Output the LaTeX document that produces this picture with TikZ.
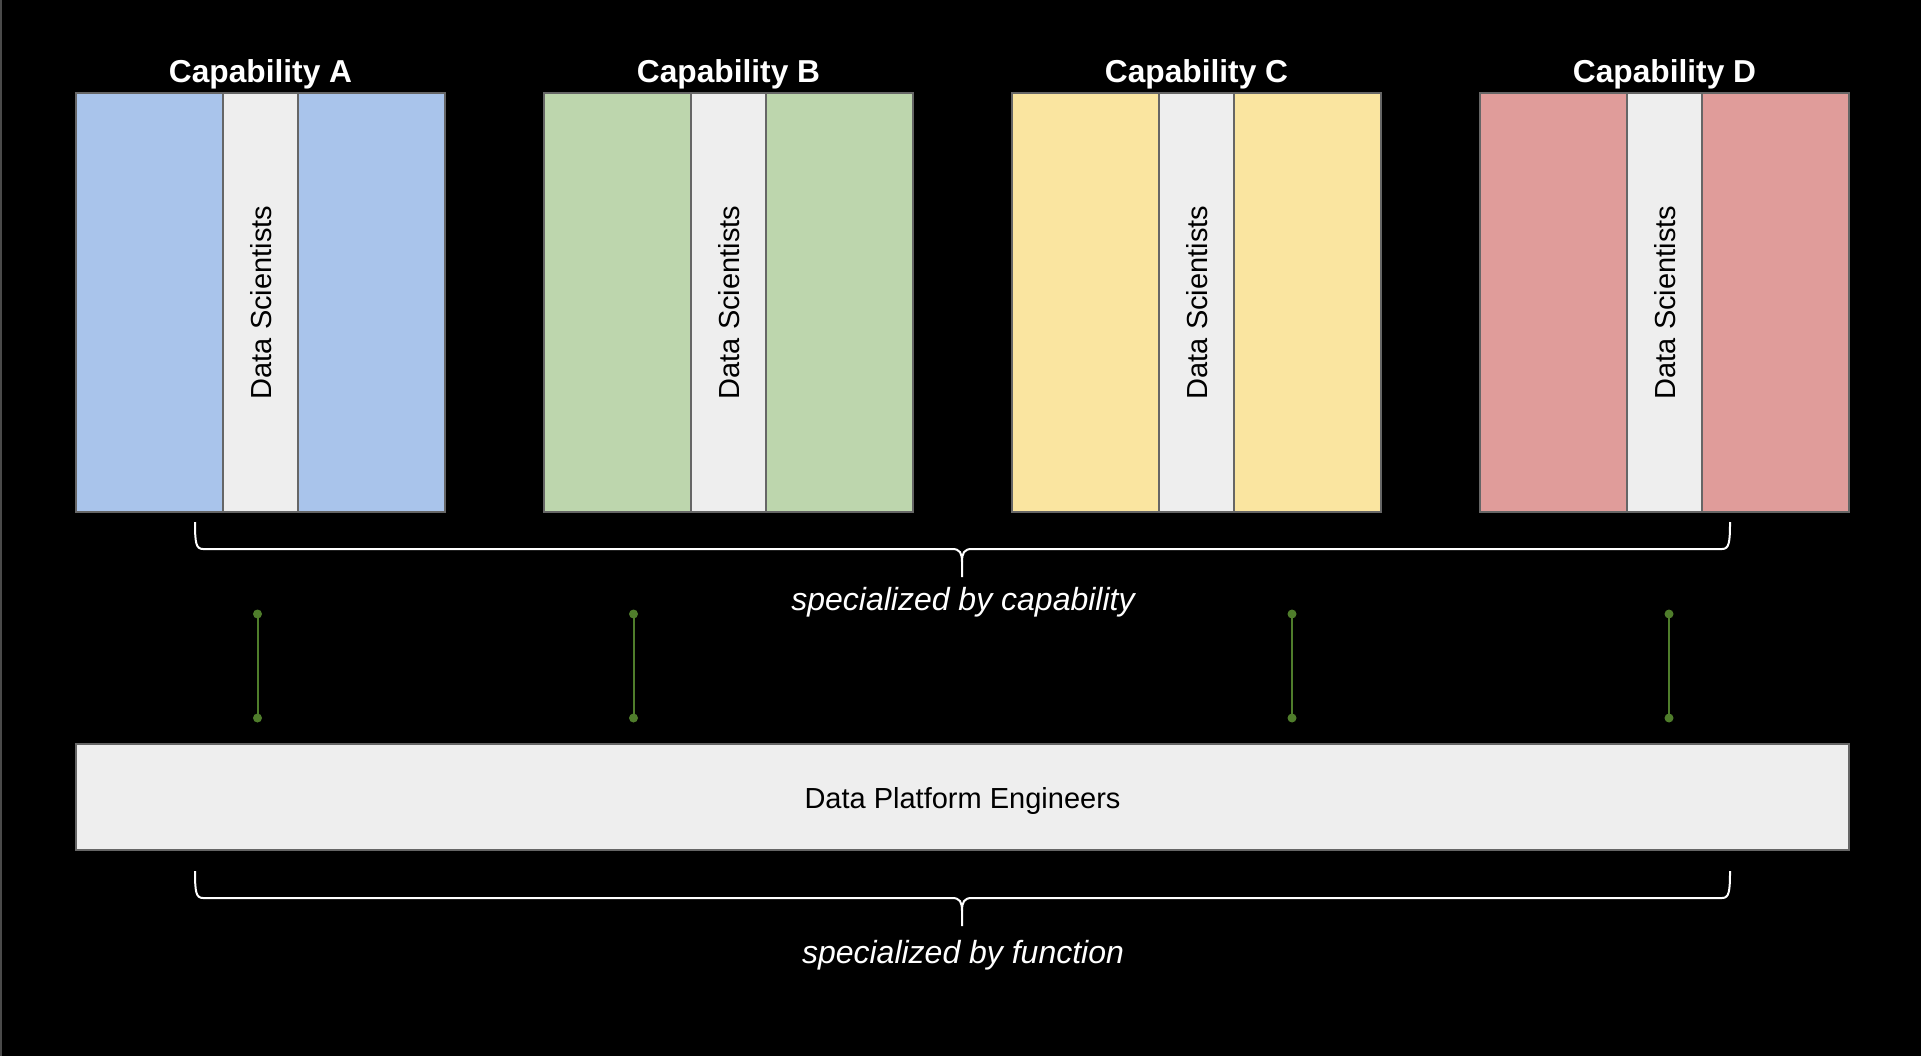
\documentclass[tikz,border=0pt]{standalone}
\usepackage{fontspec}
\setmainfont{Liberation Sans}
\usetikzlibrary{arrows.meta}
\definecolor{capA}{HTML}{A9C4EB}
\definecolor{capB}{HTML}{BDD6AD}
\definecolor{capC}{HTML}{FAE5A0}
\definecolor{capD}{HTML}{E09C9A}
\definecolor{stripfill}{HTML}{EEEEEE}
\definecolor{boxline}{HTML}{666666}
\definecolor{greenline}{HTML}{4F7D2B}
\definecolor{sideline}{HTML}{4A4A4A}
\tikzset{
  colbox/.style={draw=boxline, line width=2pt, minimum width=147pt, minimum height=419pt, inner sep=0pt, outer sep=0pt},
  stripbox/.style={draw=boxline, fill=stripfill, line width=2pt, minimum width=75pt, minimum height=419pt, inner sep=0pt, outer sep=0pt},
  dslabel/.style={text=black, inner sep=0pt, font=\fontsize{29}{35}\selectfont},
  captitle/.style={text=white, inner sep=0pt, anchor=base, font=\fontsize{31.7}{38}\selectfont\bfseries},
  platbox/.style={draw=boxline, fill=stripfill, line width=2pt, minimum width=1773pt, minimum height=106pt, inner sep=0pt},
  plattext/.style={text=black, inner sep=0pt, anchor=base, font=\fontsize{29}{35}\selectfont},
  bracelabel/.style={text=white, inner sep=0pt, anchor=base, font=\fontsize{32}{38}\selectfont\itshape},
  bracepath/.style={draw=white, line width=2pt},
  gline/.style={draw=greenline, line width=2pt},
  gdot/.style={fill=greenline}
}
\begin{document}
\begin{tikzpicture}[x=1pt,y=-1pt]
\useasboundingbox (0,0) rectangle (1921,1056);
\fill[black] (0,0) rectangle (1921,1056);
\fill[sideline] (0,0) rectangle (2,1056);
% capability blocks
\foreach \n/\c/\ox in {A/capA/76, B/capB/544, C/capC/1012, D/capD/1480}{
  \node[colbox, fill=\c] (\n-l) at (\ox+73.5,302.5) {};
  \node[colbox, fill=\c] (\n-r) at (\ox+295.5,302.5) {};
  \node[stripbox] (\n-s) at (\ox+184.5,302.5) {};
  \node[dslabel, rotate=90] (\n-ds) at (\ox+185.5,302.5) {Data Scientists};
  \node[captitle] (\n-t) at (\ox+184.5,82.5) {Capability \n};
}
% top brace
\path[bracepath] (195,522) .. controls (195,543) and (196,549) .. (203,549) -- (952,549)
  .. controls (960,549) and (962,553) .. (962,562) -- (962,577);
\path[bracepath] (1730,522) .. controls (1730,543) and (1729,549) .. (1722,549) -- (972,549)
  .. controls (964,549) and (962,553) .. (962,562);
\node[bracelabel] (caplabel) at (963,610) {specialized by capability};
% green connectors
\foreach \i/\gx in {1/257.5, 2/633.5, 3/1292, 4/1669}{
  \coordinate (g\i t) at (\gx,614);
  \coordinate (g\i b) at (\gx,718);
  \draw[gline] (g\i t) -- (g\i b);
  \fill[gdot] (g\i t) circle[radius=4.5];
  \fill[gdot] (g\i b) circle[radius=4.5];
}
% platform
\node[platbox] (plat) at (962.5,797) {};
\node[plattext] (plattxt) at (962.5,808) {Data Platform Engineers};
% bottom brace
\path[bracepath] (195,871) .. controls (195,892) and (196,898) .. (203,898) -- (952,898)
  .. controls (960,898) and (962,902) .. (962,911) -- (962,926);
\path[bracepath] (1730,871) .. controls (1730,892) and (1729,898) .. (1722,898) -- (972,898)
  .. controls (964,898) and (962,902) .. (962,911);
\node[bracelabel] (funclabel) at (963,963) {specialized by function};
\end{tikzpicture}
\end{document}
